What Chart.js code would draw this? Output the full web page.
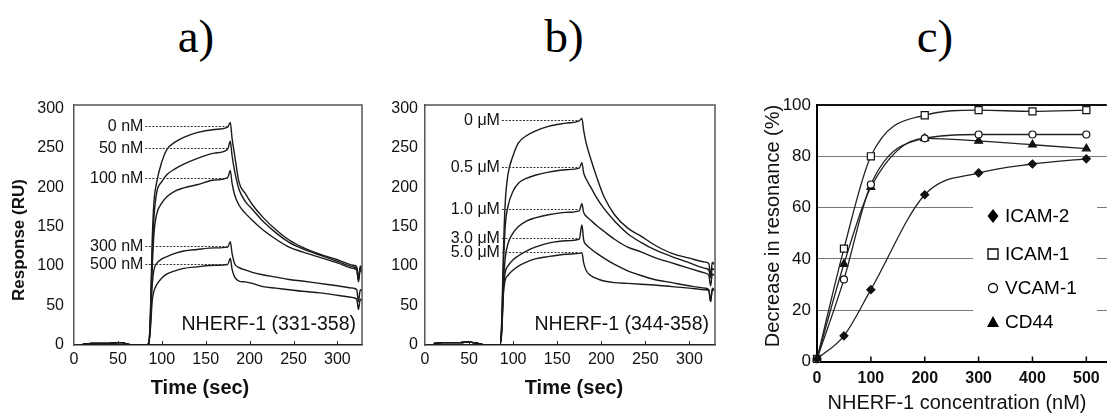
<!DOCTYPE html>
<html>
<head>
  <meta charset="utf-8">
  <title>NHERF-1 binding</title>
  <script src="https://cdn.jsdelivr.net/npm/chart.js"></script>
  <style>
    body { margin: 0; background: #fff; width: 1113px; height: 416px; overflow: hidden; position: relative; }
    .panel { position: absolute; top: 0; height: 416px; }
    .letter { position: absolute; top: 13px; font-family: "Liberation Serif", "Times New Roman", serif; font-size: 47px; line-height: 47px; transform: translateX(-50%); color: #000; }
  </style>
</head>
<body>
  <div class="letter" style="left:196px">a)</div>
  <div class="letter" style="left:564px">b)</div>
  <div class="letter" style="left:935px">c)</div>

  <div class="panel" style="left:0; width:370px"><canvas id="chart-a"></canvas></div>
  <div class="panel" style="left:370px; width:370px"><canvas id="chart-b"></canvas></div>
  <div class="panel" style="left:740px; width:373px"><canvas id="chart-c"></canvas></div>

  <script>
    // time points of the sensorgrams (sec), shared by panels a and b
    var timeSec = [10, 20, 30, 40, 50, 55, 60, 70, 80, 85, 87, 89, 91, 94, 100, 106, 115, 125, 140, 160, 175, 178, 180, 183, 188, 195, 203, 215, 230, 245, 260, 280, 300, 318, 322, 324, 326, 328];

    // panel a: NHERF-1 (331-358)
    var baseA = [1, 2, 2, 2, 3, 3, 1, 0, 0, 1];
    var a0nM   = baseA.concat([40, 130, 180, 205, 232, 248, 257, 263, 269, 273, 276, 282, 262, 240, 206, 192, 178, 162, 146, 133, 124, 115, 108, 101, 99, 82, 100, 97]);
    var a50nM  = baseA.concat([35, 110, 160, 192, 207, 216, 223, 229, 236, 243, 248, 258, 240, 220, 197, 182, 172, 157, 142, 130, 122, 114, 106, 99, 97, 85, 98, 95]);
    var a100nM = baseA.concat([30, 95, 140, 165, 180, 188, 195, 199, 203, 209, 212, 221, 205, 190, 177, 167, 158, 146, 134, 124, 118, 111, 104, 97, 95, 80, 95, 92]);
    var a300nM = baseA.concat([25, 75, 95, 103, 109, 112, 116, 119, 121, 123, 124, 131, 116, 103, 98, 95, 92, 89, 86, 83, 81, 78, 75, 72, 70, 55, 70, 68]);
    var a500nM = baseA.concat([20, 55, 68, 76, 85, 90, 94, 97, 99, 101, 102, 110, 96, 86, 81, 80, 78, 74, 72, 70, 68, 66, 63, 60, 58, 45, 58, 56]);
    var labelsA = ['0 nM', '50 nM', '100 nM', '300 nM', '500 nM'];
    var levelsA = [277, 249, 212, 125, 102.5];

    // panel b: NHERF-1 (344-358)
    var baseB = [2, 3, 3, 3, 4, 3, 2, 0, 0, 0];
    var b0uM  = baseB.concat([30, 120, 180, 215, 240, 256, 265, 271, 277, 281, 284, 287, 272, 255, 236, 212, 188, 165, 148, 138, 127, 116, 110, 105, 103, 88, 105, 102]);
    var b05uM = baseB.concat([25, 100, 150, 175, 195, 205, 211, 215, 219, 222, 224, 231, 218, 210, 200, 186, 173, 157, 141, 130, 121, 112, 104, 97, 95, 85, 97, 95]);
    var b1uM  = baseB.concat([20, 80, 110, 128, 142, 150, 157, 161, 165, 168, 170, 179, 168, 163, 158, 151, 144, 134, 124, 118, 111, 104, 97, 91, 88, 75, 90, 88]);
    var b3uM  = baseB.concat([18, 70, 92, 100, 108, 113, 119, 124, 129, 132, 134, 152, 133, 127, 122, 116, 110, 102, 94, 88, 83, 79, 75, 72, 70, 55, 72, 70]);
    var b5uM  = baseB.concat([15, 65, 82, 88, 95, 100, 105, 109, 112, 115, 116, 117, 104, 94, 88, 84, 81, 79, 78, 77, 76, 74, 72, 70, 69, 55, 70, 69]);
    var labelsB = ['0 \u03bcM', '0.5 \u03bcM', '1.0 \u03bcM', '3.0 \u03bcM', '5.0 \u03bcM'];
    var levelsB = [285, 226, 172, 136, 118];

    var timeTicks = [0, 50, 100, 150, 200, 250, 300];
    var respTicks = [0, 50, 100, 150, 200, 250, 300];

    // panel c: decrease in resonance vs NHERF-1 concentration
    var concNM = [0, 50, 100, 200, 300, 400, 500];
    var icam2 = [1, 10, 28, 65, 73.5, 77, 79];
    var icam1 = [1, 44, 80, 96, 98, 97.5, 98];
    var vcam1 = [1, 32, 69, 87, 88.5, 88.5, 88.5];
    var cd44  = [1, 38, 68, 87, 86, 84.5, 83];
    var concTicks = [0, 100, 200, 300, 400, 500];

    var SANS = '"Liberation Sans", Arial, sans-serif';
    Chart.defaults.font.family = SANS;
    Chart.defaults.color = '#111';

    function points(xs, ys) {
      return xs.map(function (x, i) { return { x: x, y: ys[i] }; });
    }

    function fixedTicks(list) {
      return function (scale) {
        scale.ticks = list.map(function (v) { return { value: v }; });
      };
    }

    // labels, dotted guides, box, inner ticks and axis titles of a sensorgram panel
    function sensorExtras(opt) {
      return {
        id: 'sensorExtras',
        afterDraw: function (chart) {
          var ctx = chart.ctx, area = chart.chartArea;
          var xs = chart.scales.x, ys = chart.scales.y;
          ctx.save();
          ctx.strokeStyle = '#555';
          ctx.lineWidth = 1.5;
          ctx.beginPath();
          ctx.moveTo(area.left, area.top);
          ctx.lineTo(area.right, area.top);
          ctx.lineTo(area.right, area.bottom);
          ctx.stroke();

          ctx.strokeStyle = '#222';
          ctx.lineWidth = 1;
          timeTicks.slice(1).forEach(function (v) {
            var px = Math.round(xs.getPixelForValue(v)) + 0.5;
            ctx.beginPath();
            ctx.moveTo(px, area.bottom);
            ctx.lineTo(px, area.bottom - 4);
            ctx.stroke();
          });

          ctx.fillStyle = '#111';
          ctx.font = '16px ' + SANS;
          ctx.textAlign = 'right';
          ctx.textBaseline = 'middle';
          var x0 = xs.getPixelForValue(opt.labelAt);
          var x1 = xs.getPixelForValue(175);
          opt.labels.forEach(function (txt, i) {
            var py = Math.round(ys.getPixelForValue(opt.levels[i])) + 0.5;
            ctx.fillText(txt, x0, py);
            ctx.setLineDash([2, 1.5]);
            ctx.strokeStyle = '#333';
            ctx.beginPath();
            ctx.moveTo(x0 + 2, py);
            ctx.lineTo(x1, py);
            ctx.stroke();
            ctx.setLineDash([]);
          });

          ctx.font = '19.5px ' + SANS;
          ctx.fillText(opt.tag, area.right - 6, area.bottom - 20);

          ctx.textAlign = 'center';
          ctx.font = 'bold 20px ' + SANS;
          ctx.fillText('Time (sec)', opt.xTitleX, 388);

          if (opt.yTitle) {
            ctx.translate(19, 240);
            ctx.rotate(-Math.PI / 2);
            ctx.font = 'bold 17px ' + SANS;
            ctx.fillText(opt.yTitle, 0, 0);
          }
          ctx.restore();
        }
      };
    }

    function sensorChart(id, series, opt) {
      var datasets = series.map(function (vals) {
        return {
          data: points(timeSec, vals),
          borderColor: '#1a1a1a',
          borderWidth: 1.4,
          pointRadius: 0,
          fill: false,
          cubicInterpolationMode: 'monotone'
        };
      });
      return new Chart(document.getElementById(id), {
        type: 'line',
        data: { datasets: datasets },
        options: {
          responsive: true,
          maintainAspectRatio: false,
          animation: false,
          events: [],
          layout: { padding: { top: 105, right: opt.rightPad, left: 0, bottom: 0 } },
          plugins: { legend: { display: false }, tooltip: { enabled: false } },
          scales: {
            x: {
              type: 'linear',
              min: 0,
              max: opt.xMax,
              afterBuildTicks: fixedTicks(timeTicks),
              afterFit: function (s) { s.height = 71; },
              grid: { display: false, drawTicks: false },
              border: { display: true, color: '#222', width: 1.5 },
              ticks: { font: { size: 16 }, padding: 5, maxRotation: 0 }
            },
            y: {
              min: 0,
              max: 304,
              afterBuildTicks: fixedTicks(respTicks),
              afterFit: function (s) { s.width = opt.yWidth; },
              grid: { display: false, drawTicks: false },
              border: { display: true, color: '#555', width: 1.5 },
              ticks: { font: { size: 16 }, padding: opt.yPad }
            }
          }
        },
        plugins: [sensorExtras(opt)]
      });
    }

    sensorChart('chart-a', [a0nM, a50nM, a100nM, a300nM, a500nM], {
      labels: labelsA, levels: levelsA, labelAt: 79, tag: 'NHERF-1 (331-358)',
      xTitleX: 200, yTitle: 'Response (RU)', yWidth: 74, yPad: 10, rightPad: 8, xMax: 328
    });

    sensorChart('chart-b', [b0uM, b05uM, b1uM, b3uM, b5uM], {
      labels: labelsB, levels: levelsB, labelAt: 85, tag: 'NHERF-1 (344-358)',
      xTitleX: 204, yTitle: null, yWidth: 55, yPad: 7, rightPad: 25, xMax: 329
    });

    // panel c legend box, inner ticks and titles
    var legendNames = ['ICAM-2', 'ICAM-1', 'VCAM-1', 'CD44'];
    var legendStyles = ['rectRot', 'rect', 'circle', 'triangle'];

    function drawMarker(ctx, style, x, y) {
      ctx.beginPath();
      if (style === 'rectRot') {
        ctx.moveTo(x, y - 7); ctx.lineTo(x + 5.5, y); ctx.lineTo(x, y + 7); ctx.lineTo(x - 5.5, y);
        ctx.closePath(); ctx.fill();
      } else if (style === 'rect') {
        ctx.rect(x - 5, y - 5, 10, 10); ctx.stroke();
      } else if (style === 'circle') {
        ctx.arc(x, y, 4.5, 0, Math.PI * 2); ctx.stroke();
      } else {
        ctx.moveTo(x, y - 6); ctx.lineTo(x + 6, y + 5); ctx.lineTo(x - 6, y + 5);
        ctx.closePath(); ctx.fill();
      }
    }

    var extrasC = {
      id: 'extrasC',
      beforeDatasetsDraw: function (chart) {
        var ctx = chart.ctx, left = chart.canvas.parentNode.offsetLeft;
        ctx.save();
        ctx.fillStyle = '#fff';
        ctx.fillRect(973 - left, 195, 124, 150);
        ctx.fillStyle = '#000';
        ctx.strokeStyle = '#000';
        ctx.lineWidth = 1.3;
        ctx.font = '19px ' + SANS;
        ctx.textAlign = 'left';
        ctx.textBaseline = 'middle';
        var rows = [216, 254, 288, 322];
        legendNames.forEach(function (name, i) {
          drawMarker(ctx, legendStyles[i], 993 - left, rows[i]);
          ctx.fillText(name, 1005 - left, rows[i] + 1);
        });
        ctx.restore();
      },
      afterDraw: function (chart) {
        var ctx = chart.ctx, area = chart.chartArea, xs = chart.scales.x;
        var left = chart.canvas.parentNode.offsetLeft;
        ctx.save();
        ctx.strokeStyle = '#000';
        ctx.lineWidth = 1.5;
        concTicks.slice(1).forEach(function (v) {
          var px = xs.getPixelForValue(v);
          ctx.beginPath();
          ctx.moveTo(px, area.bottom);
          ctx.lineTo(px, area.bottom - 5);
          ctx.stroke();
        });
        ctx.fillStyle = '#111';
        ctx.textAlign = 'center';
        ctx.textBaseline = 'middle';
        ctx.font = '20px ' + SANS;
        ctx.fillText('NHERF-1 concentration (nM)', 957 - left, 403);
        ctx.translate(773 - left, 226);
        ctx.rotate(-Math.PI / 2);
        ctx.fillText('Decrease in resonance (%)', 0, 0);
        ctx.restore();
      }
    };

    function curve(vals, style, radius, fillColor) {
      return {
        data: points(concNM, vals),
        borderColor: '#222',
        borderWidth: 1.3,
        pointStyle: style,
        pointRadius: radius,
        pointBackgroundColor: fillColor,
        pointBorderColor: '#111',
        pointBorderWidth: 1.2,
        cubicInterpolationMode: 'monotone',
        clip: false
      };
    }

    new Chart(document.getElementById('chart-c'), {
      type: 'line',
      data: {
        datasets: [
          curve(icam2, 'rectRot', 4, '#111'),
          curve(icam1, 'rect', 5, '#fff'),
          curve(vcam1, 'circle', 3.5, '#fff'),
          curve(cd44, 'triangle', 4.5, '#111')
        ]
      },
      options: {
        responsive: true,
        maintainAspectRatio: false,
        animation: false,
        events: [],
        layout: { padding: { top: 105, right: 0, left: 0, bottom: 0 } },
        plugins: { legend: { display: false }, tooltip: { enabled: false } },
        scales: {
          x: {
            type: 'linear',
            min: 0,
            max: 538,
            afterBuildTicks: fixedTicks(concTicks),
            afterFit: function (s) { s.height = 54.5; },
            grid: { display: false, drawTicks: false },
            border: { display: true, color: '#000', width: 2 },
            ticks: { font: { size: 16, weight: 'bold' }, padding: 7, maxRotation: 0 }
          },
          y: {
            min: 0,
            max: 100,
            ticks: { stepSize: 20, font: { size: 17 }, padding: 6 },
            afterFit: function (s) { s.width = 77; },
            grid: {
              drawTicks: false,
              color: function (c) { return c.tick && c.tick.value === 100 ? '#111' : '#777'; },
              lineWidth: function (c) { return c.tick && c.tick.value === 100 ? 2 : 1; }
            },
            border: { display: true, color: '#000', width: 2 }
          }
        }
      },
      plugins: [extrasC]
    });
  </script>
</body>
</html>
